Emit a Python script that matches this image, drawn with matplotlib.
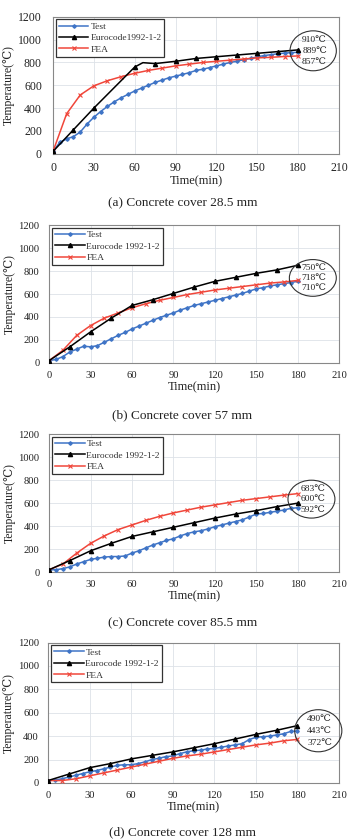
import matplotlib
matplotlib.use("Agg")
import matplotlib.pyplot as plt
from matplotlib.patches import Ellipse
import numpy as np

plt.rcParams['font.family'] = ['Liberation Serif', 'DejaVu Serif']

# ---------------- data ----------------
t5 = list(range(0, 181, 5))
t10 = list(range(0, 181, 10))
t15 = list(range(0, 181, 15))

# (a) cover 28.5 mm
test_a = [20, 100, 130, 150, 190, 260, 320, 370, 415, 455, 490, 520, 550, 575, 600, 625,
          645, 665, 680, 695, 710, 730, 740, 755, 770, 785, 800, 810, 825, 835, 850, 860,
          868, 876, 882, 886, 889]
euro_a_t = [0, 15, 30, 60, 66, 75, 90, 105, 120, 135, 150, 165, 180]
euro_a = [20, 210, 400, 760, 798, 790, 810, 835, 850, 865, 880, 895, 910]
fea_a = [20, 350, 515, 595, 640, 675, 705, 730, 750, 770, 785, 800, 810, 820, 830, 840,
         845, 852, 857]

# (b) cover 57 mm
test_b = [20, 30, 55, 95, 120, 145, 140, 150, 180, 210, 240, 265, 295, 320, 345, 370,
          395, 415, 435, 460, 480, 500, 515, 530, 545, 560, 575, 590, 605, 625, 645, 655,
          670, 680, 690, 700, 710]
euro_b = [20, 140, 270, 390, 500, 550, 605, 660, 710, 745, 780, 810, 850]
fea_b = [20, 110, 240, 325, 390, 435, 480, 515, 545, 570, 595, 615, 635, 650, 665, 680,
         695, 705, 718]

# (c) cover 85.5 mm
test_c = [20, 20, 30, 45, 70, 90, 110, 120, 130, 135, 135, 140, 165, 185, 210, 235, 255,
          275, 290, 315, 335, 350, 360, 375, 395, 410, 425, 440, 455, 480, 505, 510, 520,
          530, 540, 555, 560]
euro_c = [20, 100, 185, 250, 310, 350, 390, 430, 470, 505, 535, 570, 600]
fea_c = [20, 70, 165, 250, 315, 370, 410, 450, 485, 515, 540, 565, 585, 605, 625, 640,
         655, 670, 683]

# (d) cover 128 mm
test_d = [20, 25, 35, 50, 65, 80, 95, 105, 120, 135, 150, 155, 155, 165, 180, 200, 210,
          225, 230, 250, 265, 275, 280, 290, 295, 305, 315, 325, 335, 370, 390, 395, 400,
          410, 420, 440, 443]
euro_d = [20, 75, 130, 165, 205, 235, 265, 300, 335, 375, 415, 450, 490]
fea_d = [20, 20, 35, 60, 85, 110, 135, 160, 185, 210, 230, 245, 265, 285, 305, 325,
         340, 360, 372]

euro_labels = ["Eurocode1992-1-2", "Eurocode 1992-1-2", "Eurocode 1992-1-2", "Eurocode 1992-1-2"]
end_labels = [["910℃", "889℃", "857℃"], ["750℃", "718℃", "710℃"],
              ["683℃", "600℃", "592℃"], ["490℃", "443℃", "372℃"]]
captions = ["(a) Concrete cover 28.5 mm", "(b) Concrete cover 57 mm",
            "(c) Concrete cover 85.5 mm", "(d) Concrete cover 128 mm"]

panels = [
    (test_a, euro_a_t, euro_a, fea_a),
    (test_b, t15, euro_b, fea_b),
    (test_c, t15, euro_c, fea_c),
    (test_d, t15, euro_d, fea_d),
]

# layout: [left, bottom, width, height], ellipse centre/height, caption y
rects = [[0.151, 0.817, 0.815, 0.163],
         [0.140, 0.568, 0.826, 0.164],
         [0.140, 0.319, 0.826, 0.164],
         [0.137, 0.068, 0.829, 0.167]]
ell = [(191, 902, 350), (191, 740, 320), (190, 635, 330), (195, 446, 360)]
cap_y = [0.758, 0.506, 0.258, 0.0095]
tick_fs = [8.5, 7.6, 7.6, 7.6]
ypad = [8, 7, 7, 6.5]

blue = "#3F74C6"
red = "#F0463A"

fig = plt.figure(figsize=(3.51, 8.4), dpi=100)

for i, (test, et, euro, fea) in enumerate(panels):
    ax = fig.add_axes(rects[i])
    ax.plot(t5, test, color=blue, lw=1.1, marker="D", ms=1.8, label="Test", zorder=3)
    mk = [j for j, v in enumerate(et) if v % 15 == 0]
    ax.plot(et, euro, color="black", lw=1.1, marker="^", ms=3, markevery=mk,
            label=euro_labels[i], zorder=4)
    ax.plot(t10, fea, color=red, lw=1.1, marker="x", ms=3, mew=0.8, label="FEA", zorder=3)

    ax.set_xlim(0, 210)
    ax.set_ylim(0, 1200)
    ax.set_xticks(range(0, 211, 30))
    ax.set_yticks(range(0, 1201, 200))
    ax.grid(True, color="#DDE2E8", lw=0.6)
    ax.set_axisbelow(True)
    for s in ax.spines.values():
        s.set_color("#888888")
        s.set_linewidth(0.8)
    ax.tick_params(length=0, labelsize=tick_fs[i], colors="#222222")
    ax.tick_params(axis="y", pad=ypad[i])
    ax.tick_params(axis="x", pad=6)
    ax.set_xlabel("Time(min)", fontsize=9, labelpad=1, color="#222222")
    ax.set_ylabel("Temperature(℃)", fontsize=8.5, labelpad=2, color="#222222")

    leg = ax.legend(loc="upper left", bbox_to_anchor=(0.005, 0.995), fontsize=6.8,
                    frameon=True, fancybox=False, handlelength=3.1, handletextpad=0.2,
                    borderpad=0.3, labelspacing=0.3, borderaxespad=0.2)
    leg.get_frame().set_edgecolor("#333333")
    leg.get_frame().set_linewidth(0.9)
    leg.get_frame().set_alpha(1)
    for txt in leg.get_texts():
        txt.set_color("#333333")

    cx, cy, h = ell[i]
    ax.add_patch(Ellipse((cx, cy), 34, h, fill=False, ec="#333333", lw=0.8,
                         clip_on=False, zorder=5))
    for k, lab in enumerate(end_labels[i]):
        ax.text(cx + 1, cy + h * 0.28 - k * h * 0.28, lab, fontsize=6.8, ha="center",
                va="center", zorder=6, color="#222222")

    fig.text(0.52, cap_y[i], captions[i], fontsize=9.5, ha="center", va="center",
             color="#222222")

fig.savefig("out.png", dpi=100, facecolor="white")
